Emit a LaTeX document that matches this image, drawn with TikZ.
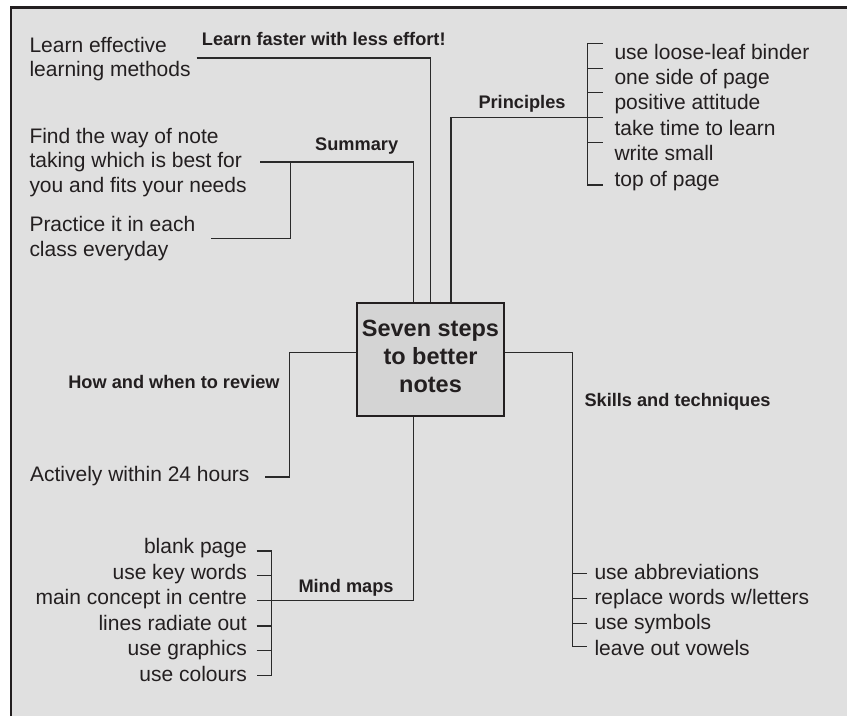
\documentclass[tikz,border=0pt]{standalone}
\usepackage{fontspec}
\setmainfont{Liberation Sans}
\usetikzlibrary{calc}
\definecolor{bg}{HTML}{E0E0E0}
\definecolor{boxfill}{HTML}{D4D4D4}
\definecolor{ink}{HTML}{231F20}
\definecolor{linec}{HTML}{2A2A2A}
\begin{document}
\begin{tikzpicture}[x=1pt,y=-1pt,
  item/.style={font=\fontsize{21}{25}\selectfont, text=ink, inner sep=0pt, anchor=base west},
  itemr/.style={item, anchor=base east},
  head/.style={font=\bfseries\fontsize{18.2}{22}\selectfont, text=ink, inner sep=0pt, anchor=base west},
  conn/.style={draw=linec, line width=1.3pt},
  mainbox/.style={draw=ink, line width=2pt, fill=boxfill, inner sep=0pt, minimum width=147.3pt, minimum height=113.3pt},
  titletext/.style={font=\bfseries\fontsize{23.5}{28.3}\selectfont, text=ink, align=center, inner sep=0pt, anchor=north}
]
\useasboundingbox (0,0) rectangle (847,716);
\fill[white] (0,0) rectangle (847,716);
\fill[bg] (11,7.5) rectangle (847,716);
\draw[ink, line width=2.2pt] (11,716) -- (11,7.5) -- (847,7.5);

% central box
\node[mainbox] (main) at (430.65,359.65) {};
\node[titletext] (title) at (430.5,319.4) {Seven steps\\to better\\notes};

% Learn faster with less effort!
\node[item] (lem1) at (29.3,52.3) {Learn effective};
\node[item] (lem2) at (29.3,76.7) {learning methods};
\node[head] (lf) at (201.7,45.7) {Learn faster with less effort!};
\coordinate (lfA) at (196.7,58);
\draw[conn] (lfA) -| (main.north);

% Summary
\node[head] (sum) at (315,150.7) {Summary};
\node[item] (s1) at (29.3,143.3) {Find the way of note};
\node[item] (s2) at (29.3,167.7) {taking which is best for};
\node[item] (s3) at (29.3,192.7) {you and fits your needs};
\node[item] (s4) at (29.3,231.7) {Practice it in each};
\node[item] (s5) at (29.3,256.7) {class everyday};
\coordinate (sumA) at (260,162);
\coordinate (sumJ) at (290.7,162);
\coordinate (sumP) at (210.7,238.3);
\draw[conn] (sumA) -| ([xshift=-17pt]main.north);
\draw[conn] (sumJ) |- (sumP);

% Principles
\node[head] (pr) at (478.3,108.3) {Principles};
\node[item] (p1) at (614.3,59.3) {use loose-leaf binder};
\node[item] (p2) at (614.3,84.3) {one side of page};
\node[item] (p3) at (614.3,109.3) {positive attitude};
\node[item] (p4) at (614.3,135) {take time to learn};
\node[item] (p5) at (614.3,160.7) {write small};
\node[item] (p6) at (614.3,186) {top of page};
\coordinate (prE) at (602.7,117.3);
\coordinate (prT) at (602.7,43.3);
\coordinate (prB) at (602.7,185);
\draw[conn] ([xshift=20.35pt]main.north) |- (prE);
\draw[conn] (prT) -- ++(-15,0) |- (prB);
\foreach \yy in {68.3,92.7,142.7}{\draw[conn] (587.7,\yy) -- (602.7,\yy);}

% How and when to review
\node[head] (hw) at (68.1,388.3) {How and when to review};
\node[item] (h1) at (29.9,481.7) {Actively within 24 hours};
\coordinate (hwK) at (289.3,477);
\coordinate (hwA) at (265,477);
\draw[conn] ([yshift=6.85pt]main.west) -| (hwK) -- (hwA);

% Skills and techniques
\node[head] (sk) at (584.3,406) {Skills and techniques};
\node[item] (k1) at (594.3,579.3) {use abbreviations};
\node[item] (k2) at (594.3,604) {replace words w/letters};
\node[item] (k3) at (594.3,629.3) {use symbols};
\node[item] (k4) at (594.3,655) {leave out vowels};
\coordinate (skK) at (572.5,646.7);
\coordinate (skE) at (586.7,646.7);
\draw[conn] ([yshift=6.85pt]main.east) -| (skK) -- (skE);
\foreach \yy in {573.3,598.3,623.3}{\draw[conn] (572.5,\yy) -- (586.7,\yy);}

% Mind maps
\node[head] (mm) at (298.3,592.7) {Mind maps};
\node[itemr] (m1) at (247,553.3) {blank page};
\node[itemr] (m2) at (247,579.3) {use key words};
\node[itemr] (m3) at (247,604) {main concept in centre};
\node[itemr] (m4) at (247,630) {lines radiate out};
\node[itemr] (m5) at (247,655.7) {use graphics};
\node[itemr] (m6) at (247,681) {use colours};
\coordinate (mmE) at (256.7,600.7);
\coordinate (mmT) at (256.7,551);
\coordinate (mmB) at (256.7,675.7);
\draw[conn] ([xshift=-17pt]main.south) |- (mmE);
\draw[conn] (mmT) -- ++(15,0) |- (mmB);
\foreach \yy in {575.7,626,650.7}{\draw[conn] (256.7,\yy) -- (271.7,\yy);}
\end{tikzpicture}
\end{document}
